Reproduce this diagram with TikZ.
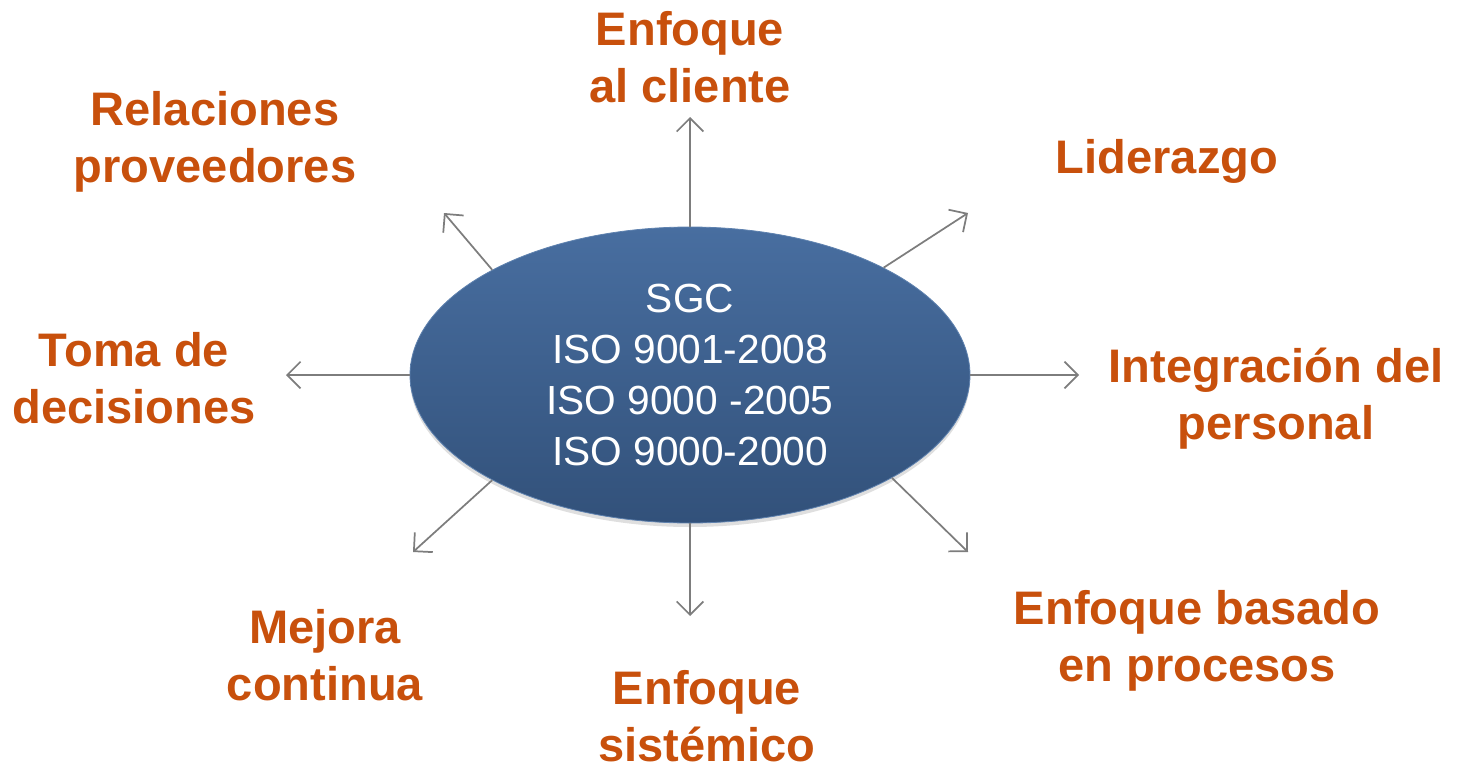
\documentclass[tikz,border=0pt]{standalone}
\usepackage{fontspec}
\setmainfont{Liberation Sans}
\newfontfamily\ellfont{Liberation Sans}
\usetikzlibrary{arrows.meta,shadows,shapes.geometric}
\definecolor{lbl}{RGB}{200,80,12}
\definecolor{ell top}{RGB}{72,110,160}
\definecolor{ell bot}{RGB}{50,81,122}
\definecolor{ell edge}{RGB}{95,130,175}
\definecolor{arr}{RGB}{125,125,125}
\tikzset{
  lab/.style={font=\fontsize{35.3}{42.75}\selectfont\bfseries, text=lbl, align=center, inner sep=0pt, anchor=base},
  ray/.style={draw=arr, line width=1.3pt, -{Straight Barb[length=10pt,width=20pt,line width=1.3pt]}},
  core/.style={ellipse, minimum width=420pt, minimum height=222pt, inner sep=0pt,
    top color=ell top, bottom color=ell bot, draw=ell edge, line width=0.6pt,
    drop shadow={opacity=0.25, shadow xshift=0pt, shadow yshift=-3pt},
    text=white, align=center, font=\ellfont\fontsize{30.5}{38.25}\selectfont}
}
\begin{document}
\begin{tikzpicture}[x=0.75pt,y=-0.75pt]
\useasboundingbox (0,0) rectangle (1460,771);
\node[core] (e) at (690,375) {SGC\\ISO 9001-2008\\ISO 9000 -2005\\ISO 9000-2000};

\node[lab] (cli) at (690,102) {Enfoque\\al cliente};
\node[lab] (rel) at (215,182) {Relaciones\\proveedores};
\node[lab] (lid) at (1167,173) {Liderazgo};
\node[lab] (tom) at (134,423) {Toma de\\decisiones};
\node[lab] (int) at (1276,439) {Integración del\\personal};
\node[lab] (mej) at (325,700) {Mejora\\continua};
\node[lab] (sis) at (707,761) {Enfoque\\sistémico};
\node[lab] (pro) at (1197,681) {Enfoque basado\\en procesos};

\coordinate (tcli) at (690,117);
\coordinate (tlid) at (968,213);
\coordinate (tint) at (1079,375);
\coordinate (tpro) at (968,552);
\coordinate (tsis) at (690,616);
\coordinate (tmej) at (413,552);
\coordinate (ttom) at (286,375);
\coordinate (trel) at (444,213);

\draw[ray] (e.90) -- (tcli);
\draw[ray] (e.29.8) -- (tlid);
\draw[ray] (e.0) -- (tint);
\draw[ray] (e.-27.9) -- (tpro);
\draw[ray] (e.270) -- (tsis);
\draw[ray] (e.208) -- (tmej);
\draw[ray] (e.180) -- (ttom);
\draw[ray] (e.152) -- (trel);
\end{tikzpicture}
\end{document}
